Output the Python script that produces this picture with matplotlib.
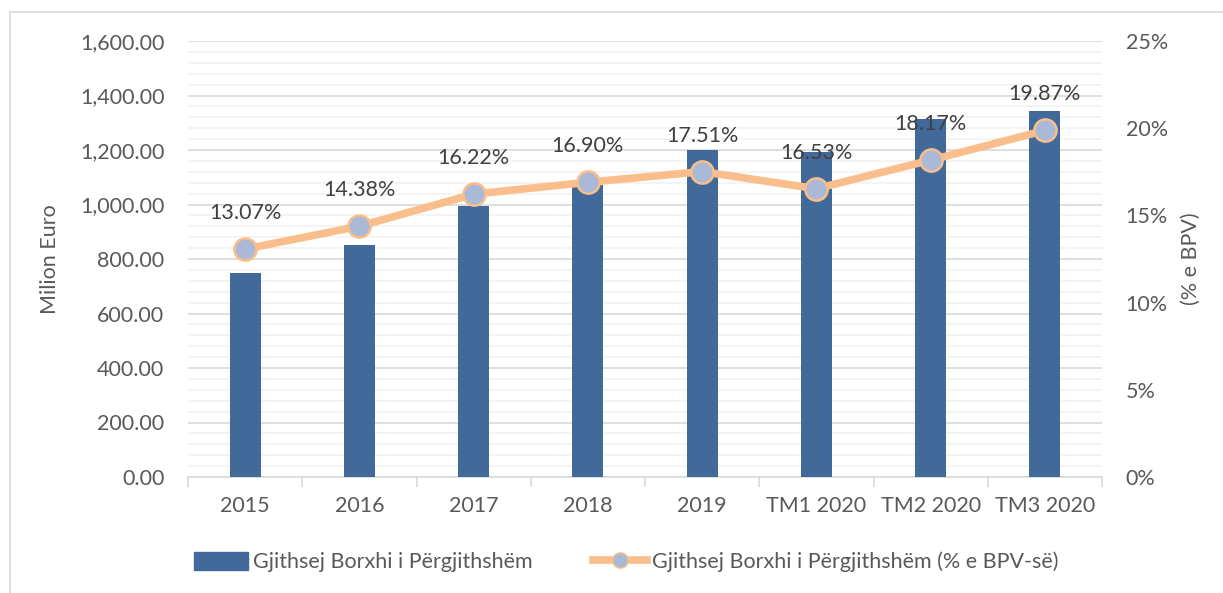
import numpy as np
import matplotlib.pyplot as plt
from matplotlib.ticker import FuncFormatter, MultipleLocator, FixedLocator
from matplotlib.lines import Line2D

plt.rcParams['font.family'] = ['Lato', 'DejaVu Sans']

# data
categories = ['2015', '2016', '2017', '2018', '2019', 'TM1 2020', 'TM2 2020', 'TM3 2020']
debt_eur = [748, 851, 996, 1073, 1200, 1191, 1314, 1343]
debt_pct = [13.07, 14.38, 16.22, 16.90, 17.51, 16.53, 18.17, 19.87]

bar_color = '#416999'
line_color = '#F9BE8C'
marker_face = '#A9B9D6'
tick_color = '#595959'
label_color = '#404040'
grid_major = '#D9D9D9'
grid_minor = '#F2F2F2'
fs = 15.5

fig = plt.figure(figsize=(12.23, 5.93), dpi=100)
ax = fig.add_axes([188/1223, 1 - 477/593, (1102-188)/1223, (477-41)/593])
x = np.arange(len(categories))

ax.bar(x, debt_eur, width=0.27, color=bar_color, zorder=3)
ax.set_xlim(-0.5, len(categories) - 0.5)
ax.set_ylim(0, 1600)
ax.yaxis.set_major_locator(MultipleLocator(200))
ax.yaxis.set_minor_locator(MultipleLocator(40))
ax.yaxis.set_major_formatter(FuncFormatter(lambda v, p: f'{v:,.2f}'))
ax.grid(which='major', axis='y', color=grid_major, lw=1.2, zorder=0)
ax.grid(which='minor', axis='y', color=grid_minor, lw=1.2, zorder=0)
ax.set_axisbelow(True)
for s in ['top', 'right', 'left']:
    ax.spines[s].set_visible(False)
ax.spines['bottom'].set_color(grid_major)
ax.spines['bottom'].set_linewidth(1.2)

ax.set_xticks(x)
ax.set_xticklabels(categories)
ax.xaxis.set_minor_locator(FixedLocator(np.arange(-0.5, len(categories), 1)))
ax.tick_params(axis='x', which='major', length=0, pad=14, labelsize=fs, labelcolor=tick_color)
ax.tick_params(axis='x', which='minor', length=7, width=1.2, color=grid_major)
ax.tick_params(axis='y', which='both', length=0, pad=17, labelsize=fs, labelcolor=tick_color)
ax.set_ylabel('Milion Euro', fontsize=fs, color=tick_color, labelpad=14)

ax2 = ax.twinx()
ax2.plot(x, debt_pct, color=line_color, lw=5.5, marker='o', markersize=16,
         markerfacecolor=marker_face, markeredgecolor=line_color, markeredgewidth=1.8,
         zorder=4, solid_capstyle='round')
ax2.set_ylim(0, 25)
ax2.yaxis.set_major_locator(MultipleLocator(5))
ax2.yaxis.set_major_formatter(FuncFormatter(lambda v, p: f'{v:.0f}%'))
ax2.tick_params(axis='y', length=0, pad=17, labelsize=fs, labelcolor=tick_color)
for s in ax2.spines.values():
    s.set_visible(False)
ax2.set_ylabel('(% e BPV)', fontsize=fs, color=tick_color, rotation=90, labelpad=9)

for xi, v in zip(x, debt_pct):
    ax2.annotate(f'{v:.2f}%', (xi, v), xytext=(0, 26), textcoords='offset points',
                 ha='center', va='center', fontsize=fs, color=label_color, zorder=5)

# legend
h1 = plt.Rectangle((0, 0), 1, 1, color=bar_color)
h2 = Line2D([0], [0], color=line_color, lw=5.5, marker='o', markersize=11,
            markerfacecolor=marker_face, markeredgecolor=line_color)
fig.legend([h1, h2], ['Gjithsej Borxhi i Përgjithshëm', 'Gjithsej Borxhi i Përgjithshëm (% e BPV-së)'],
           loc='center', bbox_to_anchor=(0.512, 0.052), ncol=2, frameon=False,
           fontsize=fs, labelcolor=tick_color, handlelength=2.5, handleheight=0.85,
           handletextpad=0.25, columnspacing=2.8)

# chart border
fig.add_artist(Line2D([10/1223, 1], [1 - 12/593, 1 - 12/593], color=grid_major, lw=1.2))
fig.add_artist(Line2D([10/1223, 10/1223], [0, 1 - 12/593], color=grid_major, lw=1.2))

fig.savefig('out.png', dpi=100)
